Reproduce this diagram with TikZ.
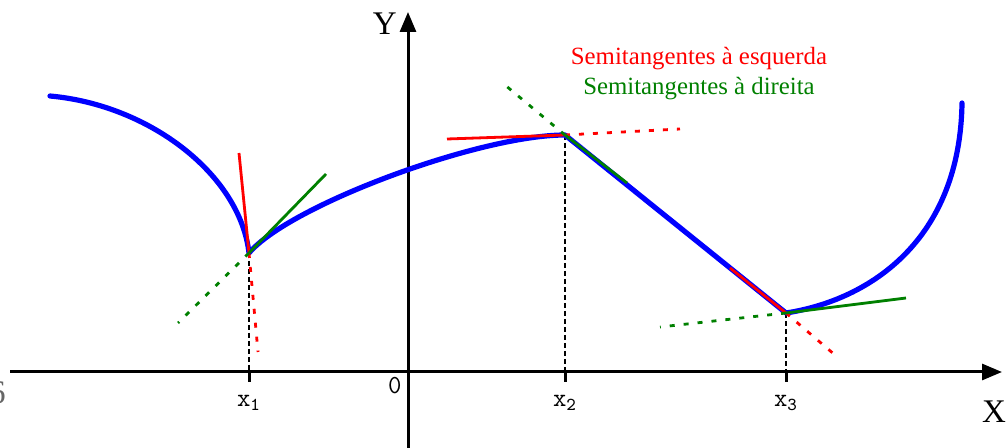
\documentclass[tikz,border=0pt]{standalone}
\usepackage{fontspec}
\setmainfont{Liberation Serif}
\usetikzlibrary{arrows.meta}
\definecolor{blue}{HTML}{0000FF}
\definecolor{red}{HTML}{FF0000}
\definecolor{green}{HTML}{008000}

\begin{document}
\begin{tikzpicture}[x=0.5pt,y=-0.5pt,axis/.style={line width=1.5pt,-{Triangle[length=10pt,width=8pt]}},graph/.style={blue,line width=2.6pt,line join=round,line cap=round},semi/.style={line width=1.4pt},semidot/.style={line width=1.4pt,dash pattern=on 2.5pt off 4.5pt},guide/.style={line width=1.4pt,dash pattern=on 2.5pt off 1.5pt},tick/.style={font=\ttfamily\fontsize{13}{14}\selectfont,inner sep=1pt},axlabel/.style={font=\fontsize{16.5}{18}\selectfont,inner sep=0pt},note/.style={font=\fontsize{12.4}{14}\selectfont,inner sep=0pt}]
 \useasboundingbox (0,0) rectangle (1007,448);
 \coordinate (O) at (408,372);
 \coordinate (xs) at (10,372);
 \coordinate (xe) at (1002,372);
 \coordinate (ys) at (408,448);
 \coordinate (ye) at (408,12);
 \coordinate (p1) at (249,253);
 \coordinate (p2) at (565,135);
 \coordinate (p3) at (786,313);
 \draw[axis] (xs)--(xe);
 \draw[axis] (ys)--(ye);
 \foreach \p/\i in {p1/1,p2/2,p3/3}{
  \draw[guide] (\p)--(\p |- O);
  \draw[line width=1.5pt] (\p |- O)--++(0,10) node[tick,below=5pt] (tick\i) {x\textsubscript{\i}};
 }
 \node[tick,anchor=north east] (zero) at (404,375) {0};
 \node[axlabel,anchor=east] (ylabel) at (397,24) {Y};
 \node[axlabel] (xlabel) at (994,412) {X};
 \node[axlabel,text=black!60,anchor=east] (cut) at (6,393) {6};
 \draw[graph] (50,96) .. controls (150,105) and (240,175) .. (p1) .. controls (290,205) and (480,135) .. (p2) -- (p3) .. controls (870,300) and (960,240) .. (962,103);
 \coordinate (e1) at (239,153);
 \coordinate (e1d) at (258,352);
 \coordinate (d1) at (326,174);
 \coordinate (d1d) at (178,323);
 \coordinate (e2) at (447,139);
 \coordinate (e2d) at (680,129);
 \coordinate (d2) at (627,183);
 \coordinate (d2d) at (505,85);
 \coordinate (e3) at (730,268);
 \coordinate (e3d) at (835,355);
 \coordinate (d3) at (906,298);
 \coordinate (d3d) at (660,327);
 \foreach \i in {1,2,3}{
  \draw[semi,red] (p\i)--(e\i);
  \draw[semidot,red] (p\i)--(e\i d);
  \draw[semi,green] (p\i)--(d\i);
  \draw[semidot,green] (p\i)--(d\i d);
 }
 \node[note,text=red] (esquerda) at (699,59) {Semitangentes à esquerda};
 \node[note,text=green] (direita) at (699,89) {Semitangentes à direita};
\end{tikzpicture}
\end{document}
